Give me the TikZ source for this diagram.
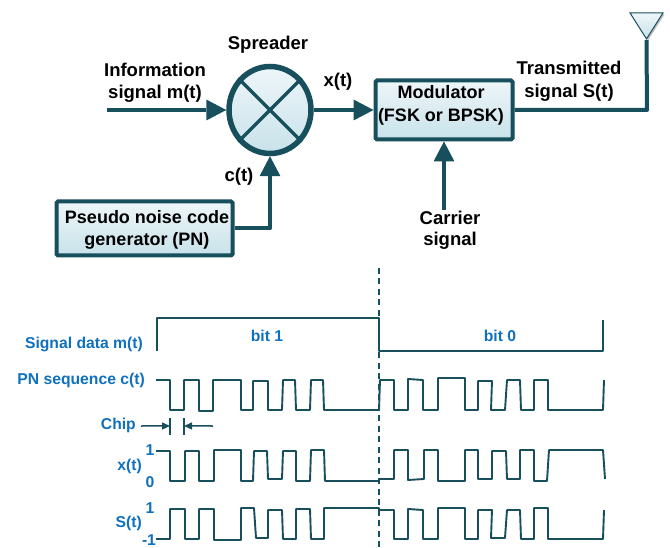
\documentclass[tikz,border=0pt]{standalone}
\usepackage{fontspec}
\setmainfont{Liberation Sans}
\usetikzlibrary{arrows.meta,shapes.geometric,shadows,calc}
\definecolor{dk}{HTML}{174F5C}
\definecolor{bl}{HTML}{0F70BE}
\definecolor{gtop}{HTML}{EEF6F9}
\definecolor{gbot}{HTML}{C8E2EA}
\newcommand{\bigtxt}{\fontsize{18.5}{22}\selectfont\bfseries}
\newcommand{\boxtxt}{\fontsize{18}{22}\selectfont\bfseries}
\newcommand{\smalltxt}{\fontsize{15.7}{18}\selectfont\bfseries}
\tikzset{
  x=1pt,y=-1pt,
  fillgrad/.style={top color=gtop,bottom color=gbot},
  softshadow/.style={drop shadow={shadow xshift=1.5pt,shadow yshift=-1.5pt,opacity=.25,fill=black}},
  blockbox/.style={draw=dk,line width=4pt,rounded corners=1.5pt,fillgrad,softshadow,inner sep=0pt},
  boxlab/.style={font=\boxtxt,text=black,inner sep=0pt},
  lab/.style={font=\bigtxt,text=black,inner sep=0pt,align=center},
  blab/.style={font=\smalltxt,text=bl,inner sep=0pt,anchor=east},
  cval/.style={font=\smalltxt,text=bl,inner sep=0pt},
  conn/.style={draw=dk,line width=4pt,line join=round},
  arr/.style={conn,-{Triangle[length=20pt,width=21pt,line width=0pt]}},
  wave/.style={draw=dk,line width=1.9pt,line join=round},
  thinarr/.style={draw=dk,line width=1.5pt,-{Triangle[length=8pt,width=7pt]}},
}
\begin{document}
\begin{tikzpicture}
\useasboundingbox (0,0) rectangle (670,548);
% --- blocks
\node[ellipse,draw=dk,line width=5.5pt,fillgrad,softshadow,minimum width=82pt,minimum height=87pt,inner sep=0pt] (sp) at (270,110) {};
\draw[dk,line width=3.5pt] (sp.45) -- (sp.225) (sp.135) -- (sp.315);
\node[blockbox,minimum width=176pt,minimum height=54pt] (pn) at (144.5,228.5) {};
\node[boxlab] (pn1) at (147,217) {Pseudo noise code};
\node[boxlab] (pn2) at (147,241) {generator (PN)};
\node[blockbox,minimum width=137pt,minimum height=59pt] (mod) at (444,110) {};
\node[boxlab] (mod1) at (441,92) {Modulator};
\node[boxlab] (mod2) at (441,117) {(FSK or BPSK)};
\node[isosceles triangle,shape border rotate=-90,isosceles triangle stretches,draw=dk,line width=1pt,fillgrad,softshadow,minimum width=33pt,minimum height=26pt,inner sep=0pt] (ant) at (646.5,22) {};
% --- connector ends
\coordinate (in) at (107,110);
\coordinate (car) at (444,210);
\coordinate (corner) at (647,110);
% --- connectors
\draw[arr] (in) -- (sp.west);
\draw[arr] (sp.east) -- (mod.west);
\draw[arr] (pn.east) -| (sp.south);
\draw[arr] (car) -- (mod.south);
\draw[conn] (mod.east) -- (corner) -- (ant.south);
% --- labels upper part
\node[lab] (l1) at (268,45) {Spreader};
\node[lab] (l2) at (155,70) {Information};
\node[lab] (l3) at (155,94) {signal m(t)};
\node[lab] (l4) at (338,82) {x(t)};
\node[lab] (l5) at (569,68) {Transmitted};
\node[lab] (l6) at (569,93) {signal S(t)};
\node[lab] (l7) at (450,218) {Carrier};
\node[lab] (l8) at (450,241) {signal};
\node[lab] (l9) at (239,177) {c(t)};
% --- timing labels
\node[blab] (t1) at (143,344) {Signal data m(t)};
\node[blab] (t2) at (145,380) {PN sequence c(t)};
\node[blab] (t3) at (136,425) {Chip};
\node[blab] (t4) at (142,466) {x(t)};
\node[blab] (t5) at (142,523) {S(t)};
\node[cval] (v1) at (150,450) {1};
\node[cval] (v2) at (150,482) {0};
\node[cval] (v3) at (150,508) {1};
\node[cval] (v4) at (149,540) {-1};
\node[cval] (b1) at (267,336) {bit 1};
\node[cval] (b0) at (500,336) {bit 0};
% --- divider
\coordinate (d1) at (379,268);
\coordinate (d2) at (379,548);
\draw[dk,line width=2.2pt,dash pattern=on 6pt off 4.5pt] (d1) -- (d2);
% --- data signal
\draw[wave] (157,351) |- (379,318) -- (379,351) -- (603,351) -- (603,320);
% --- PN sequence
\draw[wave] (156,380) -- (170,380) -- (170,410) -- (184,410) -- (184,380) -- (199,380) -- (199,411) -- (213,411) -- (213,380) -- (241,380) -- (241,410) -- (253,410) -- (253,381) -- (268,381) -- (268,410) -- (282,410) -- (283,380) -- (295,380) -- (296,410) -- (310,410) -- (311,380) -- (323,380) -- (324,410) -- (379,410) -- (380,380) -- (394,380) -- (394,410) -- (408,410) -- (408,379) -- (423,380) -- (423,410) -- (438,410) -- (438,378) -- (465,378) -- (465,410) -- (478,410) -- (478,381) -- (492,381) -- (491,410) -- (505,410) -- (507,380) -- (520,380) -- (521,410) -- (534,410) -- (534,380) -- (548,380) -- (548,410) -- (603,410) -- (604,380);
% --- chip marker
\coordinate (c1) at (170,418);
\coordinate (c2) at (170,435);
\coordinate (c3) at (184,418);
\coordinate (c4) at (184,435);
\coordinate (c5) at (141,426);
\coordinate (c6) at (213,426);
\draw[dk,line width=1.2pt] (c1) -- (c2) (c3) -- (c4);
\draw[thinarr] (c5) -- ($(c1)!.47!(c2)$);
\draw[thinarr] (c6) -- ($(c3)!.47!(c4)$);
% --- x(t)
\draw[wave] (156,451) -- (170,451) -- (170,481) -- (185,481) -- (185,451) -- (199,451) -- (199,481) -- (214,481) -- (214,450) -- (241,450) -- (241,481) -- (253,481) -- (254,451) -- (267,451) -- (268,479) -- (282,479) -- (283,451) -- (296,451) -- (296,481) -- (310,481) -- (311,450) -- (324,450) -- (325,481) -- (379,481) -- (379,479) -- (394,479) -- (394,450) -- (408,450) -- (408,480) -- (424,479) -- (424,450) -- (438,450) -- (438,481) -- (465,481) -- (465,450) -- (478,450) -- (478,479) -- (492,479) -- (492,451) -- (506,451) -- (507,479) -- (520,479) -- (520,450) -- (534,450) -- (534,481) -- (547,481) -- (549,450) -- (603,450) -- (605,479);
% --- S(t)
\draw[wave] (156,539) -- (170,539) -- (170,509) -- (185,509) -- (185,539) -- (199,539) -- (199,509) -- (214,509) -- (214,540) -- (241,540) -- (241,508) -- (254,508) -- (256,538) -- (268,538) -- (268,510) -- (282,510) -- (283,539) -- (296,539) -- (296,509) -- (310,509) -- (311,539) -- (324,539) -- (324,508) -- (379,508) -- (379,510) -- (394,510) -- (394,539) -- (408,539) -- (408,509) -- (423,510) -- (423,539) -- (438,539) -- (438,508) -- (465,508) -- (465,539) -- (478,539) -- (478,510) -- (492,510) -- (491,538) -- (505,538) -- (507,510) -- (520,510) -- (521,539) -- (534,539) -- (534,508) -- (548,508) -- (548,539) -- (603,539) -- (604,510);
\end{tikzpicture}
\end{document}
